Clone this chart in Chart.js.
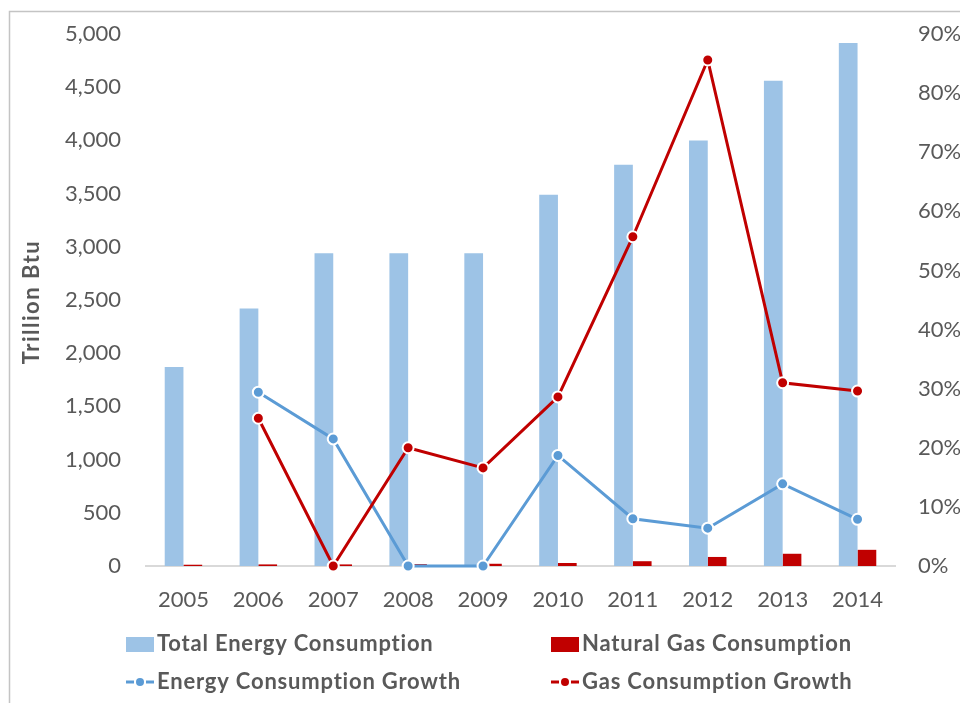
<!DOCTYPE html>
<html>
<head>
<meta charset="utf-8">
<script src="https://cdn.jsdelivr.net/npm/chart.js@4.4.1/dist/chart.umd.min.js"></script>
<style>
  html, body { margin: 0; padding: 0; background: #fff; }
  #wrap { width: 960px; height: 703px; position: relative; }
</style>
</head>
<body>
<div id="wrap"><canvas id="js--chart"></canvas></div>
<script>
const years = ['2005', '2006', '2007', '2008', '2009', '2010', '2011', '2012', '2013', '2014'];
const totalEnergy = [1870, 2420, 2940, 2940, 2940, 3490, 3770, 4000, 4560, 4915];
const naturalGas = [12, 15, 15, 18, 21, 28, 45, 85, 115, 152];
const energyGrowth = [null, 29.4, 21.5, 0, 0, 18.7, 8.0, 6.4, 13.9, 7.9];
const gasGrowth = [null, 25.0, 0, 20.0, 16.6, 28.6, 55.7, 85.6, 31.0, 29.6];

const gray = '#595959';
const fontName = 'Lato, sans-serif';
const yTitle = 'Trillion Btu';

// frame around the chart + rotated axis title
const framePlugin = {
    id: 'frame',
    beforeDraw(chart) {
        const ctx = chart.ctx;
        ctx.save();
        ctx.strokeStyle = '#C4C4C4';
        ctx.lineWidth = 1.5;
        ctx.beginPath();
        ctx.moveTo(9.5, 720);
        ctx.lineTo(9.5, 11.5);
        ctx.lineTo(980, 11.5);
        ctx.stroke();

        const area = chart.chartArea;
        ctx.translate(32, (area.top + area.bottom) / 2 + 2);
        ctx.rotate(-Math.PI / 2);
        ctx.font = 'bold 22px ' + fontName;
        ctx.letterSpacing = '1.5px';
        ctx.fillStyle = gray;
        ctx.textAlign = 'center';
        ctx.textBaseline = 'middle';
        ctx.fillText(yTitle, 0, 0);
        ctx.restore();
    }
};

// two-column legend under the axis
const legendPlugin = {
    id: 'twoColLegend',
    afterDraw(chart) {
        const ctx = chart.ctx;
        const cols = [126, 551];
        const rows = [644, 682];
        ctx.save();
        ctx.font = 'bold 22px ' + fontName;
        ctx.letterSpacing = '0.8px';
        ctx.textBaseline = 'middle';
        chart.data.datasets.forEach((ds, i) => {
            const x = cols[i % 2];
            const y = rows[Math.floor(i / 2)];
            if (ds.type === 'bar') {
                ctx.fillStyle = ds.backgroundColor;
                ctx.fillRect(x, y - 7, 28, 15);
            } else {
                ctx.strokeStyle = ds.borderColor;
                ctx.lineWidth = 3;
                ctx.beginPath();
                ctx.moveTo(x, y); ctx.lineTo(x + 8, y);
                ctx.moveTo(x + 20, y); ctx.lineTo(x + 28, y);
                ctx.stroke();
                ctx.fillStyle = ds.borderColor;
                ctx.beginPath();
                ctx.arc(x + 14, y, 4, 0, Math.PI * 2);
                ctx.fill();
            }
            ctx.fillStyle = gray;
            ctx.fillText(ds.label, x + 31, y);
        });
        ctx.restore();
    }
};

const data = {
    labels: years,
    datasets: [
        {
            type: 'bar',
            label: 'Total Energy Consumption',
            data: totalEnergy,
            backgroundColor: '#9DC3E6',
            yAxisID: 'y',
            order: 2,
            categoryPercentage: 0.5,
            barPercentage: 1.0
        },
        {
            type: 'bar',
            label: 'Natural Gas Consumption',
            data: naturalGas,
            backgroundColor: '#C00000',
            yAxisID: 'y',
            order: 2,
            categoryPercentage: 0.5,
            barPercentage: 1.0
        },
        {
            type: 'line',
            label: 'Energy Consumption Growth',
            data: energyGrowth,
            borderColor: '#5B9BD5',
            backgroundColor: '#5B9BD5',
            borderWidth: 3,
            pointRadius: 5.5,
            pointBorderWidth: 2,
            pointBorderColor: '#FFFFFF',
            pointBackgroundColor: '#5B9BD5',
            yAxisID: 'y1',
            order: 1,
            clip: false
        },
        {
            type: 'line',
            label: 'Gas Consumption Growth',
            data: gasGrowth,
            borderColor: '#C00000',
            backgroundColor: '#C00000',
            borderWidth: 3,
            pointRadius: 5.5,
            pointBorderWidth: 2,
            pointBorderColor: '#FFFFFF',
            pointBackgroundColor: '#C00000',
            yAxisID: 'y1',
            order: 0,
            clip: false
        }
    ]
};

const config = {
    type: 'bar',
    data: data,
    options: {
        responsive: true,
        maintainAspectRatio: false,
        animation: false,
        layout: { padding: { top: 34, left: 0, right: 0, bottom: 0 } },
        plugins: {
            legend: { display: false },
            tooltip: { enabled: false }
        },
        scales: {
            x: {
                grid: { display: false, drawTicks: false },
                border: { display: true, color: '#D9D9D9', width: 2 },
                ticks: { color: gray, font: { family: fontName, size: 22 }, padding: 21 },
                afterFit(scale) { scale.height = 137; }
            },
            y: {
                position: 'left',
                min: 0,
                max: 5000,
                grid: { display: false, drawTicks: false },
                border: { display: false },
                ticks: {
                    stepSize: 500,
                    color: gray,
                    font: { family: fontName, size: 22 },
                    padding: 25,
                    callback: v => v.toLocaleString('en-US')
                },
                afterFit(scale) {
                    scale.width = 146;
                    scale.paddingTop = 0;
                    scale.paddingBottom = 0;
                }
            },
            y1: {
                position: 'right',
                min: 0,
                max: 90,
                grid: { display: false, drawTicks: false },
                border: { display: false },
                ticks: {
                    stepSize: 10,
                    color: gray,
                    font: { family: fontName, size: 22 },
                    padding: 23,
                    callback: v => v + '%'
                },
                afterFit(scale) {
                    scale.width = 65;
                    scale.paddingTop = 0;
                    scale.paddingBottom = 0;
                }
            }
        }
    },
    plugins: [framePlugin, legendPlugin]
};

new Chart(document.getElementById('js--chart'), config);
</script>
</body>
</html>
